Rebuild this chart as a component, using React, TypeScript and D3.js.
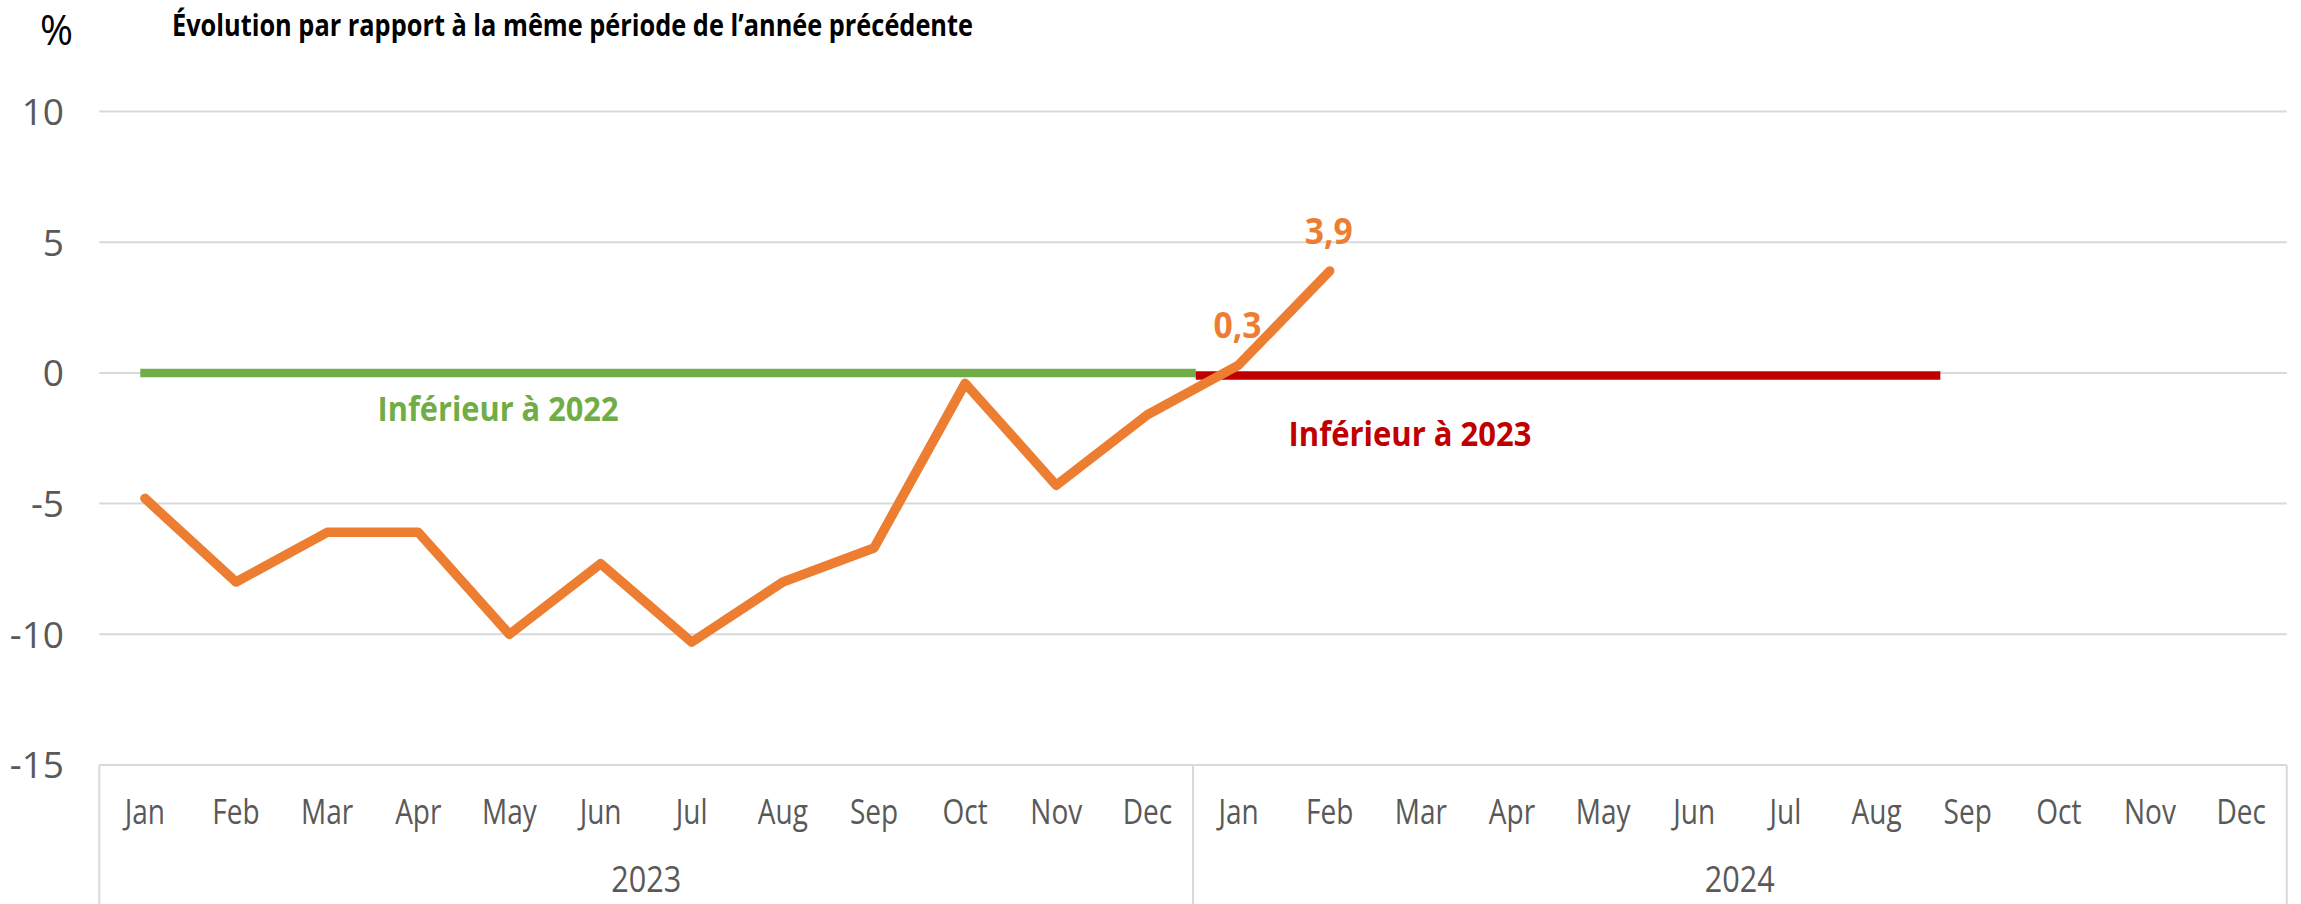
import React from "react";
import * as d3 from "d3";

const months = ["Jan", "Feb", "Mar", "Apr", "May", "Jun", "Jul", "Aug", "Sep", "Oct", "Nov", "Dec"];
const years = ["2023", "2024"];
const values2023 = [-4.8, -8.0, -6.1, -6.1, -10.0, -7.3, -10.3, -8.0, -6.7, -0.4, -4.3, -1.6];
const values2024 = [0.3, 3.9];
const labelledValues = ["0,3", "3,9"];
const yTicks = [10, 5, 0, -5, -10, -15];
// reference lines: [start, end] in category units from the axis left edge, and level
const greenSpan = [0.45, 12.03];
const greenLevel = 0;
const redSpan = [12.03, 20.2];
const redLevel = -0.1;

const W = 2301;
const H = 904;
const left = 99.3;
const right = 2286.7;
const top = 111.5;
const bottom = 765;

const ORANGE = "#ED7D31";
const GREEN = "#70AD47";
const RED = "#C00000";
const GRID = "#D9D9D9";
const TEXT = "#595959";

export default function App() {
  const cats = years.flatMap((y) => months.map((m) => `${m} ${y}`));
  const x = d3.scaleBand<string>().domain(cats).range([left, right]).padding(0);
  const xu = d3.scaleLinear().domain([0, cats.length]).range([left, right]);
  const y = d3.scaleLinear().domain([-15, 10]).range([bottom, top]);
  const bw = x.bandwidth();

  const series = [
    ...values2023.map((v, i) => ({ c: cats[i], v })),
    ...values2024.map((v, i) => ({ c: cats[12 + i], v })),
  ];
  const line = d3
    .line<{ c: string; v: number }>()
    .x((d) => (x(d.c) as number) + bw / 2)
    .y((d) => y(d.v));

  const font = "'Open Sans', sans-serif";
  const cond = 0.8;

  return (
    <svg width={W} height={H} style={{ position: "absolute", left: 0, top: 0, background: "#fff" }}>
      <rect x={0} y={0} width={W} height={H} fill="#fff" />
      {/* title */}
      <text x={40} y={45} fontFamily={font} fontSize={42} fill="#000"
        textLength={33} lengthAdjust="spacingAndGlyphs">%</text>
      <text x={172} y={36} fontFamily={font} fontWeight={700} fontSize={30} fill="#000"
        textLength={801} lengthAdjust="spacingAndGlyphs">
        Évolution par rapport à la même période de l’année précédente
      </text>

      {/* gridlines */}
      {yTicks.map((t) => (
        <line key={t} x1={left} x2={right} y1={y(t)} y2={y(t)} stroke={GRID} strokeWidth={2} />
      ))}
      {/* y tick labels */}
      {yTicks.map((t) => (
        <text key={"l" + t} x={64} y={y(t)} dy="0.36em" textAnchor="end" fontFamily={font}
          fontSize={37} fill={TEXT}>
          {t}
        </text>
      ))}

      {/* x axis box */}
      {[0, 12, 24].map((i) => (
        <line key={"v" + i} x1={xu(i)} x2={xu(i)} y1={bottom} y2={H} stroke={GRID} strokeWidth={2} />
      ))}
      {cats.map((c, i) => (
        <text key={c} transform={`translate(${(x(c) as number) + bw / 2},811) scale(${cond},1)`}
          dy="0.36em" textAnchor="middle" fontFamily={font} fontSize={35} fill={TEXT}>
          {months[i % 12]}
        </text>
      ))}
      {years.map((yr, i) => (
        <text key={yr} transform={`translate(${(xu(i * 12) + xu(i * 12 + 12)) / 2},879) scale(0.85,1)`}
          dy="0.36em" textAnchor="middle" fontFamily={font} fontSize={36} fill={TEXT}>
          {yr}
        </text>
      ))}

      {/* reference lines */}
      <line x1={xu(greenSpan[0])} x2={xu(greenSpan[1])} y1={y(greenLevel)} y2={y(greenLevel)}
        stroke={GREEN} strokeWidth={8.5} />
      <line x1={xu(redSpan[0])} x2={xu(redSpan[1])} y1={y(redLevel)} y2={y(redLevel)}
        stroke={RED} strokeWidth={8.5} />
      <text x={498} y={409} dy="0.36em" textAnchor="middle" fontFamily={font} fontWeight={700}
        fontSize={34} fill={GREEN} textLength={241} lengthAdjust="spacingAndGlyphs">
        Inférieur à 2022
      </text>
      <text x={1410} y={434} dy="0.36em" textAnchor="middle" fontFamily={font} fontWeight={700}
        fontSize={34} fill={RED} textLength={243} lengthAdjust="spacingAndGlyphs">
        Inférieur à 2023
      </text>

      {/* main series */}
      <path d={line(series) || ""} fill="none" stroke={ORANGE} strokeWidth={9.5}
        strokeLinejoin="round" strokeLinecap="round" />
      {values2024.map((v, i) => (
        <text key={"d" + i} x={(x(cats[12 + i]) as number) + bw / 2 - 1} y={y(v) - 40} dy="0.36em"
          textAnchor="middle" fontFamily={font} fontWeight={700} fontSize={36} fill={ORANGE}
          textLength={48} lengthAdjust="spacingAndGlyphs">
          {labelledValues[i]}
        </text>
      ))}
    </svg>
  );
}
